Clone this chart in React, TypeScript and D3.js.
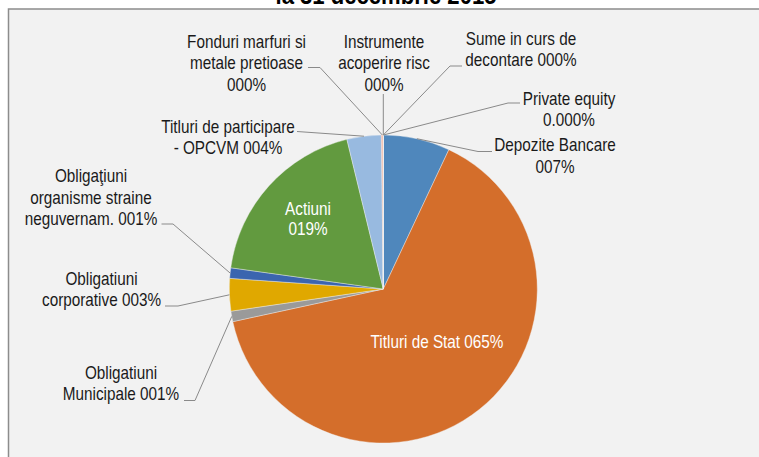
import React from 'react';
import * as d3 from 'd3';

// slice order clockwise from 12 o'clock, values in %
const categories = [
  'Depozite Bancare',
  'Titluri de Stat',
  'Obligatiuni Municipale',
  'Obligatiuni corporative',
  'Obligatiuni organisme straine neguvernam.',
  'Actiuni',
  'Titluri de participare - OPCVM',
  'Fonduri marfuri si metale pretioase',
  'Instrumente acoperire risc',
  'Sume in curs de decontare',
  'Private equity',
];
const values = [7.0, 64.6, 1.1, 3.4, 1.1, 19.0, 3.6, 0.2, 0.0, 0.0, 0.0];
const labelLines = [
  ['Depozite Bancare', '007%'],
  ['Titluri de Stat 065%'],
  ['Obligatiuni', 'Municipale 001%'],
  ['Obligatiuni', 'corporative 003%'],
  ['Obligaţiuni', 'organisme straine', 'neguvernam. 001%'],
  ['Actiuni', '019%'],
  ['Titluri de participare', '- OPCVM 004%'],
  ['Fonduri marfuri si', 'metale pretioase', '000%'],
  ['Instrumente', 'acoperire risc', '000%'],
  ['Sume in curs de', 'decontare 000%'],
  ['Private equity', '0.000%'],
];
const title = 'la 31 decembrie 2015';

const colors = [
  '#4f87bc', '#d46e2b', '#9a9a9a', '#e0a800', '#3b65af', '#629a3f',
  '#98bae0', '#f2a58c', '#c4c4c4', '#f5d060', '#8aa6d6',
];

// label placement: text centre x, first baseline, leader start + elbow
const layout = [
  { x: 555, y: 151.5, inside: false, start: [492, 151.5], elbow: [478, 151.5] },
  { x: 437, y: 348, inside: true },
  { x: 121, y: 379, inside: false, start: [184, 400.5], elbow: [195, 400.5] },
  { x: 101.5, y: 285, inside: false, start: [165, 306], elbow: [178, 306] },
  { x: 91, y: 182.5, inside: false, start: [161.5, 224], elbow: [173, 224] },
  { x: 308, y: 215, inside: true },
  { x: 228, y: 133, inside: false, start: [297, 131.5], elbow: [297, 131.5] },
  { x: 246.5, y: 48, inside: false, start: [308, 67.5], elbow: [320, 67.5] },
  { x: 384, y: 48, inside: false, start: [383.3, 94], elbow: [383.3, 94] },
  { x: 521, y: 45, inside: false, start: [462, 66], elbow: [450, 66] },
  { x: 569, y: 105, inside: false, start: [520, 103], elbow: [508, 103] },
];

const W = 759;
const H = 457;
const cx = 383.3;
const cy = 289;
const radius = 154;
const lineH = 21.5;
const narrow = 0.85; // no Arial Narrow installed, squeeze Liberation Sans instead
const font = '"Liberation Sans", Arial, sans-serif';

export default function App() {
  const pie = d3.pie<number>().sort(null).value(d => d);
  const arcs = pie(values);
  const arc = d3.arc<d3.PieArcDatum<number>>().innerRadius(0).outerRadius(radius);
  const edge = d3.arc<d3.PieArcDatum<number>>().innerRadius(radius).outerRadius(radius);

  return (
    <svg width={W} height={H} style={{ position: 'absolute', left: 0, top: 0 }} fontFamily={font}>
      <rect x={0} y={0} width={W} height={H} fill="#ffffff" />
      <rect x={8.5} y={9} width={W} height={H} fill="#f2f2f2" stroke="#8c8c8c" strokeWidth={1.5} />
      <text transform={`translate(386,4) scale(${narrow},1)`} textAnchor="middle" fontSize={26} fontWeight="bold" fill="#000">{title}</text>

      <g transform={`translate(${cx},${cy})`}>
        {arcs.map((a, i) => (
          <path key={categories[i]} d={arc(a) || ''} fill={colors[i]} stroke="#f2f2f2" strokeWidth={0.4} />
        ))}
      </g>

      {arcs.map((a, i) => {
        const l = layout[i];
        if (l.inside || !l.start) return null;
        const [ex, ey] = edge.centroid(a);
        const pts: [number, number][] = [
          l.start as [number, number],
          l.elbow as [number, number],
          [cx + ex, cy + ey],
        ];
        return (
          <path key={'l' + i} d={d3.line()(pts) || ''} fill="none" stroke="#8a8a8a" strokeWidth={1} />
        );
      })}

      {labelLines.map((lines, i) => {
        const l = layout[i];
        return (
          <text key={'t' + i} transform={`translate(${l.x},0) scale(${narrow},1)`} textAnchor="middle" fontSize={18} fill={l.inside ? '#ffffff' : '#1a1a1a'}>
            {lines.map((s, j) => (
              <tspan key={j} x={0} y={l.y + j * (i === 5 ? 20 : lineH)}>{s}</tspan>
            ))}
          </text>
        );
      })}
    </svg>
  );
}
